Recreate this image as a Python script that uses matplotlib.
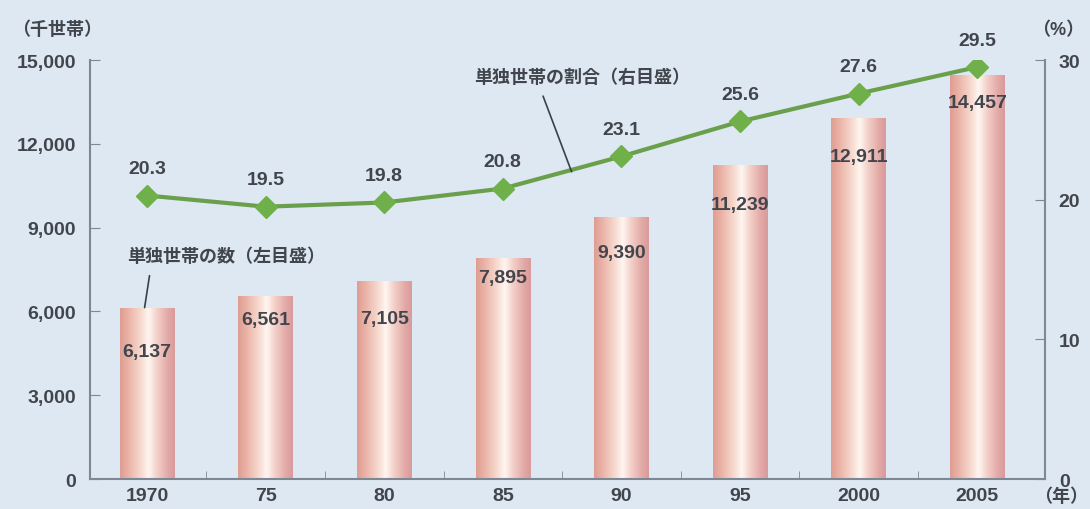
import matplotlib.pyplot as plt
import numpy as np
from matplotlib.colors import LinearSegmentedColormap

plt.rcParams['font.family'] = ['Liberation Sans', 'Noto Sans CJK JP']
plt.rcParams['font.weight'] = 'bold'

years = ['1970', '75', '80', '85', '90', '95', '2000', '2005']
households = [6137, 6561, 7105, 7895, 9390, 11239, 12911, 14457]
share_pct = [20.3, 19.5, 19.8, 20.8, 23.1, 25.6, 27.6, 29.5]

# offsets (px) of the count labels below each bar top
count_label_drop = [44, 24, 38, 19, 36, 39, 38, 27]

BG = '#dde8f2'
TEXT = '#42464c'
SPINE = '#7d8894'
GREEN_LINE = '#6a9f4c'
GREEN_MARK = '#6fb04a'

bar_cmap = LinearSegmentedColormap.from_list('cyl', [
	(0.00, '#df9d92'),
	(0.15, '#eab2a6'),
	(0.40, '#f8ddd3'),
	(0.52, '#fff6f1'),
	(0.68, '#f3cfc8'),
	(0.88, '#e2a8a6'),
	(1.00, '#d99b9b'),
])

figure = plt.figure(figsize=(10.9, 5.1), dpi=100, facecolor=BG)
ax = figure.add_axes([0.0826, 0.0588, 0.876, 0.8215])
ax.set_facecolor(BG)
x = np.arange(len(years))

bars = ax.bar(x, households, width=0.46, color='none', zorder=2)
gradient = np.linspace(0, 1, 256).reshape(1, -1)
for patch in bars:
	x0, w, h = patch.get_x(), patch.get_width(), patch.get_height()
	img = ax.imshow(gradient, cmap=bar_cmap, aspect='auto',
		extent=(x0, x0 + w, 0, h), zorder=2)
	img.set_clip_path(patch)

for xi, val, drop in zip(x, households, count_label_drop):
	ax.annotate(f'{val:,}', (xi, val), xytext=(0, -drop),
		textcoords='offset pixels', ha='center', va='center',
		fontsize=14, color=TEXT, zorder=4)

ax.set_xlim(-0.48, 7.57)
ax.set_ylim(0, 15000)
ax.set_yticks(range(0, 15001, 3000))
ax.set_yticklabels([f'{v:,}' for v in range(0, 15001, 3000)])
ax.set_xticks(x, labels=years)
ax.set_xticks(x[:-1] + 0.5, minor=True)
ax.tick_params(axis='y', direction='in', length=7, color=SPINE,
	labelsize=14, labelcolor=TEXT, pad=10)
ax.tick_params(axis='x', which='major', length=0, labelsize=14,
	labelcolor=TEXT, pad=6)
ax.tick_params(axis='x', which='minor', direction='in', length=6,
	color=SPINE)
for side in ['top', 'right']:
	ax.spines[side].set_visible(False)
for side in ['left', 'bottom']:
	ax.spines[side].set_color(SPINE)
	ax.spines[side].set_linewidth(1.5)

ax2 = ax.twinx()
ax2.set_ylim(0, 30)
ax2.set_yticks([0, 10, 20, 30])
ax2.tick_params(axis='y', direction='in', length=7, color=SPINE,
	labelsize=14, labelcolor=TEXT, pad=10)
for side in ['top', 'left', 'bottom']:
	ax2.spines[side].set_visible(False)
ax2.spines['right'].set_color(SPINE)
ax2.spines['right'].set_linewidth(1.5)

ax2.plot(x, share_pct, color=GREEN_LINE, linewidth=3, zorder=3)
ax2.plot(x, share_pct, linestyle='none', marker='D', markersize=11,
	color=GREEN_MARK, zorder=3)
for xi, val in zip(x, share_pct):
	ax2.annotate(f'{val}', (xi, val), xytext=(0, 27),
		textcoords='offset pixels', ha='center', va='center',
		fontsize=14, color=TEXT)

# callouts for the two series
ax.annotate('単独世帯の数（左目盛）', xy=(-0.02, households[0]),
	xytext=(0.67, 7990), ha='center', va='center', fontsize=13,
	color=TEXT, arrowprops=dict(arrowstyle='-', color='#3a4048',
	lw=1.2, shrinkA=6, shrinkB=0, relpos=(0.12, 0)))
ax2.annotate('単独世帯の割合（右目盛）', xy=(3.58, 22.0),
	xytext=(3.67, 28.8), ha='center', va='center', fontsize=13,
	color=TEXT, arrowprops=dict(arrowstyle='-', color='#3a4048',
	lw=1.2, shrinkA=6, shrinkB=0, relpos=(0.3, 0)))

figure.text(0.011, 0.94, '（千世帯）', fontsize=13, color=TEXT,
	va='center', ha='left')
figure.text(0.995, 0.94, '（%）', fontsize=13, color=TEXT,
	va='center', ha='right')
figure.text(0.998, 0.025, '（年）', fontsize=13, color=TEXT,
	va='center', ha='right')

figure.savefig('out.png', dpi=100, facecolor=BG)
